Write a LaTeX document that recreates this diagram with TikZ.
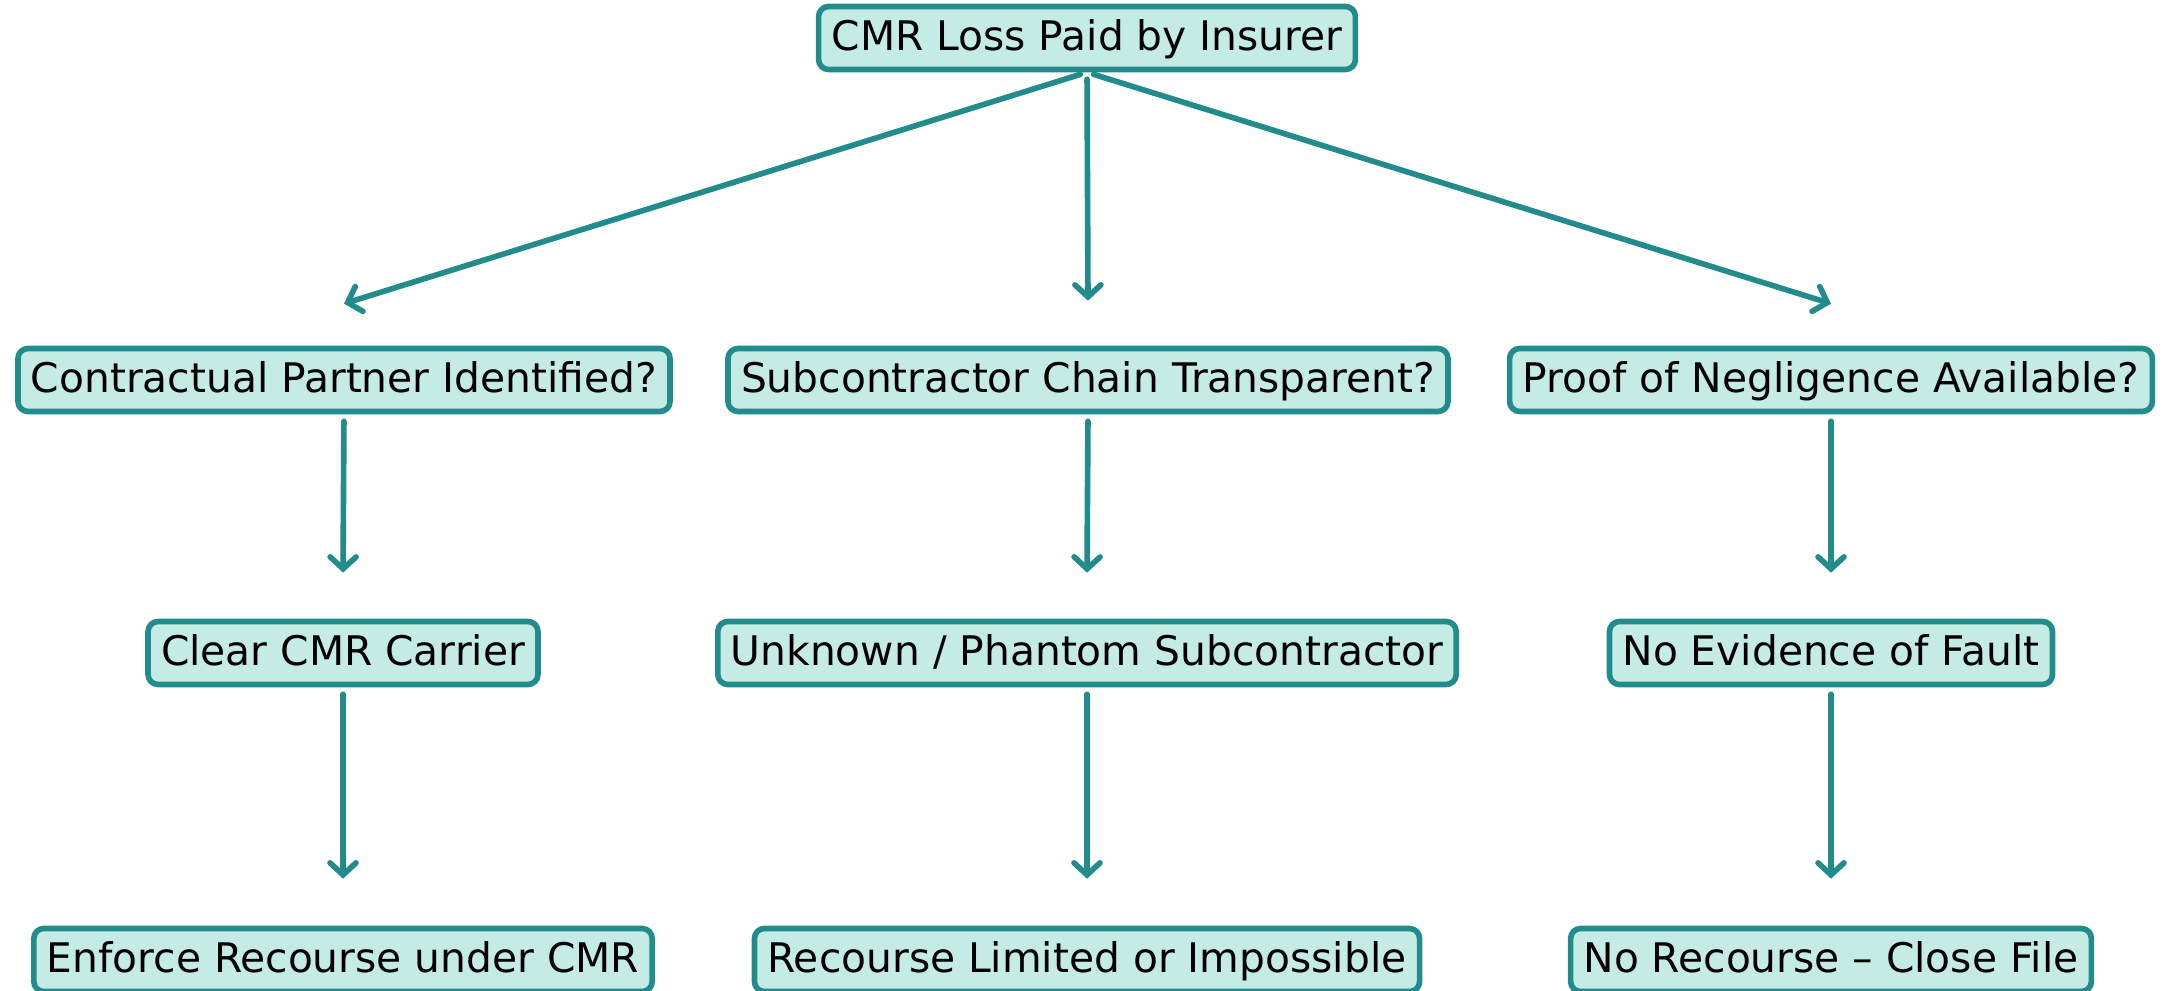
\documentclass[tikz,border=0pt]{standalone}
\usepackage{fontspec}
\setmainfont{DejaVu Sans}
\usepackage{tikz}
\usetikzlibrary{positioning, arrows.meta}

\definecolor{boxfill}{RGB}{196,235,228}
\definecolor{teal}{RGB}{34,139,139}

\begin{document}
\begin{tikzpicture}[
    box/.style={draw=teal, fill=boxfill, line width=1.6pt, rounded corners=0.1cm,
        minimum height=0.63cm, inner xsep=0.13cm, inner ysep=0.05cm,
        text height=0.95em, text depth=0.22em,
        font=\fontsize{11.6}{13}\selectfont},
    arr/.style={draw=teal, line width=1.6pt, line cap=round,
        -{Straight Barb[length=0.12cm, width=0.26cm, line cap=round]}, shorten <=0.07cm}
    ]
            \useasboundingbox (0,0) rectangle (21.65,-9.91);

            %Nodes
            \node[box] at (10.87,-0.38) (paid) {CMR Loss Paid by Insurer};
            \node[box] at (3.44,-3.80) (partner) {Contractual Partner Identified?};
            \node[box] at (10.88,-3.80) (chain) {Subcontractor Chain Transparent?};
            \node[box] at (18.31,-3.80) (proof) {Proof of Negligence Available?};
            \node[box] at (3.43,-6.53) (carrier) {Clear CMR Carrier};
            \node[box] at (10.87,-6.53) (phantom) {Unknown / Phantom Subcontractor};
            \node[box] at (18.31,-6.53) (nofault) {No Evidence of Fault};
            \node[box] at (3.43,-9.60) (enforce) {Enforce Recourse under CMR};
            \node[box] at (10.87,-9.60) (limited) {Recourse Limited or Impossible};
            \node[box] at (18.31,-9.60) (close) {No Recourse – Close File};

            %Lines
            \draw[arr] (paid.south) -- ([yshift=0.42cm]partner.north);
            \draw[arr] (paid.south) -- ([yshift=0.45cm]chain.north);
            \draw[arr] (paid.south) -- ([yshift=0.42cm]proof.north);
            \draw[arr] (partner.south) -- ([yshift=0.46cm]carrier.north);
            \draw[arr] (chain.south) -- ([yshift=0.46cm]phantom.north);
            \draw[arr] (proof.south) -- ([yshift=0.46cm]nofault.north);
            \draw[arr] (carrier.south) -- ([yshift=0.47cm]enforce.north);
            \draw[arr] (phantom.south) -- ([yshift=0.47cm]limited.north);
            \draw[arr] (nofault.south) -- ([yshift=0.47cm]close.north);
        \end{tikzpicture}
\end{document}
